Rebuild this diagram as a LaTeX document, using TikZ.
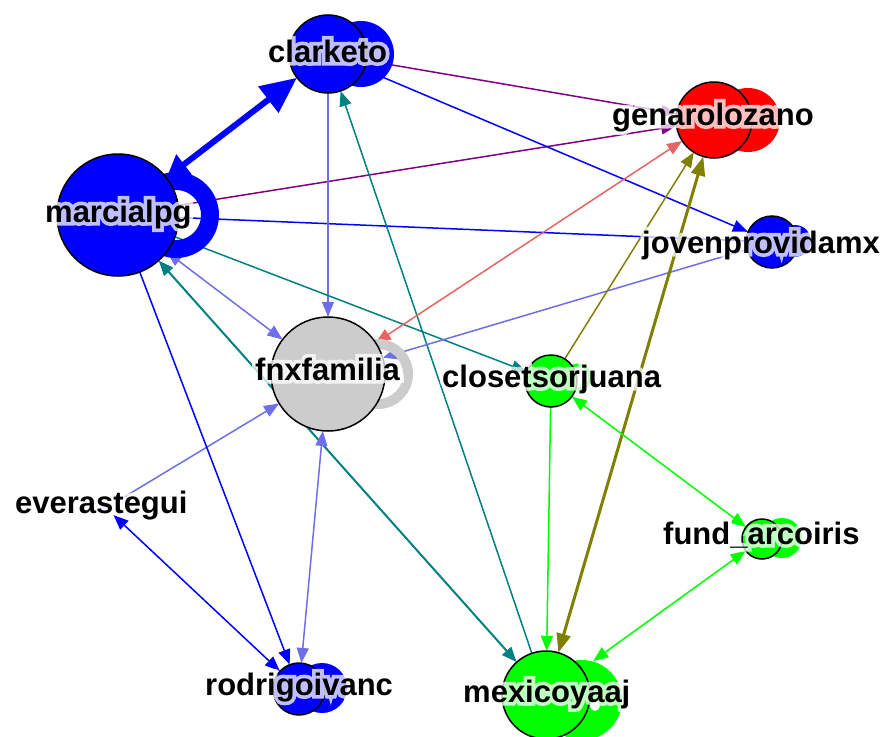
\documentclass[tikz,border=0pt]{standalone}
\usepackage{fontspec}
\setmainfont{Liberation Sans}
\newfontface\halofont{Liberation Sans Bold}[FakeBold=24]
\usetikzlibrary{arrows.meta}
\definecolor{cBlue}{RGB}{0,0,255}
\definecolor{cLav}{RGB}{110,110,230}
\definecolor{cPurple}{RGB}{128,0,128}
\definecolor{cTeal}{RGB}{0,128,128}
\definecolor{cOlive}{RGB}{128,128,0}
\definecolor{cSalmon}{RGB}{230,100,100}
\definecolor{cGreen}{RGB}{0,255,0}
\definecolor{cGray}{RGB}{204,204,204}
\definecolor{cRed}{RGB}{255,0,0}
\tikzset{
  vtx/.style={circle, inner sep=0pt},
  lbl/.style={font=\fontsize{31}{31}\selectfont\bfseries, anchor=base west, inner sep=0pt, text=black},
  halo/.style={font=\fontsize{31}{31}\selectfont\halofont, anchor=base west, inner sep=0pt, text=white},
  edge/.style={line width=1.5pt, >={Triangle[length=15pt,width=12pt]}},
  thickedge/.style={line width=3pt, >={Triangle[length=19pt,width=14pt]}},
  bigedge/.style={line width=6pt},
}
\newcommand\halotext[3]{%
  \begin{scope}[transparency group, opacity=0.75]
    \node[halo] (#1-h) at (#2) {#3};
  \end{scope}
  \node[lbl] (#1) at (#2) {#3};
}
\begin{document}
\begin{tikzpicture}[x=1pt, y=-1pt]
\useasboundingbox (0,0) rectangle (880,736);
% vertices (anchors for the connectors)
\path
  (328,54)  node[vtx, minimum size=78pt] (cl) {}
  (714,120) node[vtx, minimum size=76pt] (ge) {}
  (118,215) node[vtx, minimum size=122pt] (ma) {}
  (772,242) node[vtx, minimum size=52pt] (jo) {}
  (328,374) node[vtx, minimum size=114pt] (fn) {}
  (551,381) node[vtx, minimum size=52pt] (cs) {}
  (106,508) node[vtx, minimum size=20pt] (ev) {}
  (762,539) node[vtx, minimum size=40pt] (fu) {}
  (299,689) node[vtx, minimum size=52pt] (ro) {}
  (546,695) node[vtx, minimum size=88pt] (me) {};
% edges
\draw[bigedge, cBlue, {Triangle[length=22pt,width=24pt]}-{Triangle[length=36pt,width=32pt]}] (ma) -- (cl);
\draw[edge, cPurple, ->] (cl) -- (ge);
\draw[edge, cPurple, ->] (ma) -- (ge);
\draw[edge, cBlue, ->] (cl) -- (jo);
\draw[edge, cBlue] (ma) -- (jo);
\draw[edge, cLav, ->] (cl) -- (fn);
\draw[edge, cTeal, ->] (me) -- (cl);
\draw[edge, cLav, <->] (ma) -- (fn);
\draw[edge, cTeal, line width=2pt, <->] (ma) -- (me);
\draw[edge, cTeal, ->] (ma) -- (cs);
\draw[edge, cLav, ->] (jo) -- (fn);
\draw[edge, cSalmon, <->] (ge) -- (fn);
\draw[edge, cOlive, ->] (cs) -- (ge);
\draw[thickedge, cOlive, <->] (ge) -- (me);
\draw[edge, cGreen, ->] (cs) -- (me);
\draw[edge, cGreen, <->] (cs) -- (fu);
\draw[edge, cGreen, <->, shorten <=14pt] (me) -- (fu);
\draw[edge, cLav, ->, shorten <=6pt] (ev) -- (fn);
\draw[edge, cBlue, <->] (ev) -- (ro);
\draw[edge, cBlue, ->] (ma) -- (ro);
\draw[edge, cLav, <->] (fn) -- (ro);
% self loops
\fill[cBlue] (361,54) circle[radius=33pt];
\fill[cRed] (748,120) circle[radius=32pt];
\draw[cBlue, line width=18pt] (176,215) circle[radius=34pt];
\fill[cBlue] (795,241) circle[radius=16pt];
\draw[cGray, line width=10pt] (378,374) circle[radius=30pt];
\draw[cGreen, line width=3pt] (578,377) circle[radius=12pt];
\fill[cGreen] (782,538) circle[radius=20pt];
\fill[cBlue] (322,688) circle[radius=25pt];
\fill[cGreen, even odd rule] (582,700) circle[radius=40pt] (595,706) circle[radius=5pt];
% vertex discs
\fill[cBlue] (cl.center) circle[radius=39pt]; \draw[line width=1.5pt] (cl.center) circle[radius=39pt];
\fill[cRed] (ge.center) circle[radius=38pt]; \draw[line width=1.5pt] (ge.center) circle[radius=38pt];
\fill[cBlue] (ma.center) circle[radius=61pt]; \draw[line width=1.5pt] (ma.center) circle[radius=61pt];
\fill[cBlue] (jo.center) circle[radius=26pt]; \draw[line width=1.5pt] (jo.center) circle[radius=26pt];
\fill[cGray] (fn.center) circle[radius=57pt]; \draw[line width=1.5pt] (fn.center) circle[radius=57pt];
\fill[cGreen] (cs.center) circle[radius=26pt]; \draw[line width=1.5pt] (cs.center) circle[radius=26pt];
\fill[cLav!45] (ev.center) circle[radius=6pt];
\fill[cGreen] (fu.center) circle[radius=20pt]; \draw[line width=1.5pt] (fu.center) circle[radius=20pt];
\fill[cBlue] (ro.center) circle[radius=26pt]; \draw[line width=1.5pt] (ro.center) circle[radius=26pt];
\fill[cGreen] (me.center) circle[radius=44pt]; \draw[line width=1.5pt] (me.center) circle[radius=44pt];
% labels
\halotext{cl-l}{268,62}{clarketo}
\halotext{ge-l}{612,125}{genarolozano}
\halotext{ma-l}{45,222}{marcialpg}
\halotext{jo-l}{642,253}{jovenprovidamx}
\halotext{fn-l}{255,380}{fnxfamilia}
\halotext{cs-l}{442,387}{closetsorjuana}
\halotext{ev-l}{15,513}{everastegui}
\halotext{fu-l}{663,544}{fund\_arcoiris}
\halotext{ro-l}{205,695}{rodrigoivanc}
\halotext{me-l}{463,702}{mexicoyaaj}
\end{tikzpicture}
\end{document}
